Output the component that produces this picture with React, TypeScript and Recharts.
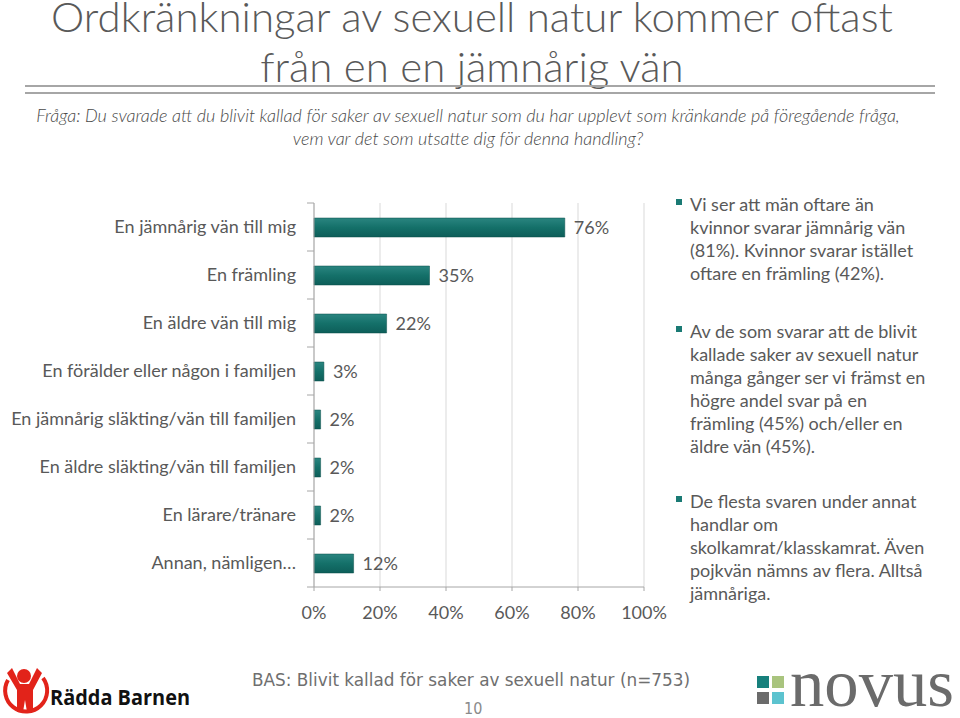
import React from "react";
import { BarChart, Bar, XAxis, YAxis, CartesianGrid, LabelList } from "recharts";

const categories = [
  "En jämnårig vän till mig",
  "En främling",
  "En äldre vän till mig",
  "En förälder eller någon i familjen",
  "En jämnårig släkting/vän till familjen",
  "En äldre släkting/vän till familjen",
  "En lärare/tränare",
  "Annan, nämligen…",
];
const values = [76, 35, 22, 3, 2, 2, 2, 12];
const xTicks = [0, 20, 40, 60, 80, 100];

const titleLines = ["Ordkränkningar av sexuell natur kommer oftast", "från en en jämnårig vän"];
const questionLines = [
  "Fråga: Du svarade att du blivit kallad för saker av sexuell natur som du har upplevt som kränkande på föregående fråga,",
  "vem var det som utsatte dig för denna handling?",
];
const bullets = [
  ["Vi ser att män oftare än", "kvinnor svarar jämnårig vän", "(81%). Kvinnor svarar istället", "oftare en främling (42%)."],
  [
    "Av de som svarar att de blivit",
    "kallade saker av sexuell natur",
    "många gånger ser vi främst en",
    "högre andel svar på en",
    "främling (45%) och/eller en",
    "äldre vän (45%).",
  ],
  ["De flesta svaren under annat", "handlar om", "skolkamrat/klasskamrat. Även", "pojkvän nämns av flera. Alltså", "jämnåriga."],
];
const bulletTops = [193, 320, 490];
const footerText = "BAS: Blivit kallad för saker av sexuell natur (n=753)";
const pageNumber = "10";

const data = categories.map((c, i) => ({ name: c, value: values[i] }));

const GRAY = "#595959";
const AXIS = "#a6a6a6";
const FONT = "Lato, 'Open Sans', sans-serif";
const TICK_SIZE = 7;
const TICK_MARGIN = 11;

function CatTick(props: any) {
  const { x, y, payload, index, visibleTicksCount } = props;
  const half = payload && typeof payload.offset === "number" && payload.offset > 0 ? payload.offset : 24;
  const ax = x + TICK_SIZE + TICK_MARGIN;
  return (
    <g>
      <text x={x} y={y} dy="0.355em" textAnchor="end" fill={GRAY} fontSize={18} fontFamily={FONT}>
        {payload.value}
      </text>
      <line x1={ax - TICK_SIZE} x2={ax} y1={y - half} y2={y - half} stroke={AXIS} />
      {index === visibleTicksCount - 1 && (
        <line x1={ax - TICK_SIZE} x2={ax} y1={y + half} y2={y + half} stroke={AXIS} />
      )}
    </g>
  );
}

export default function App() {
  return (
    <div
      style={{
        position: "absolute",
        left: 0,
        top: 0,
        width: 960,
        height: 718,
        background: "#fff",
        overflow: "hidden",
        fontFamily: FONT,
        color: GRAY,
      }}
    >
      {/* Title */}
      <svg style={{ position: "absolute", left: 0, top: 0 }} width={960} height={100}>
        {titleLines.map((t, i) => (
          <text
            key={i}
            x={472}
            y={i === 0 ? 32 : 82}
            textAnchor="middle"
            fontFamily={FONT}
            fontSize={42}
            fontWeight={300}
            fill={GRAY}
          >
            {t}
          </text>
        ))}
        <rect x={25} y={85} width={910} height={2} fill={AXIS} />
        <rect x={25} y={92} width={910} height={2} fill={AXIS} />
      </svg>

      {/* Question */}
      {questionLines.map((t, i) => (
        <div
          key={i}
          style={{
            position: "absolute",
            left: 0,
            width: 936,
            top: 104 + i * 23,
            textAlign: "center",
            fontSize: 18,
            fontStyle: "italic",
            fontWeight: 300,
            lineHeight: "23px",
            whiteSpace: "nowrap",
            color: "#4a4a4a",
          }}
        >
          {t}
        </div>
      ))}

      {/* Chart */}
      <div style={{ position: "absolute", left: 0, top: 0 }}>
        <BarChart
          width={680}
          height={640}
          data={data}
          layout="vertical"
          margin={{ top: 203, right: 36, bottom: 0, left: 0 }}
        >
          <defs>
            <linearGradient id="barGrad" x1="0" y1="0" x2="0" y2="1">
              <stop offset="0%" stopColor="#2a8580" />
              <stop offset="50%" stopColor="#147069" />
              <stop offset="100%" stopColor="#0d5e59" />
            </linearGradient>
          </defs>
          <CartesianGrid horizontal={false} stroke="#d9d9d9" />
          <XAxis
            type="number"
            domain={[0, 100]}
            ticks={xTicks}
            tickFormatter={(v: number) => `${v}%`}
            height={53}
            tickSize={4}
            tickMargin={15}
            stroke={AXIS}
            tick={{ fill: GRAY, fontSize: 18, fontFamily: FONT }}
            interval={0}
          />
          <YAxis
            type="category"
            dataKey="name"
            width={314}
            tickSize={TICK_SIZE}
            tickMargin={TICK_MARGIN}
            stroke={AXIS}
            tickLine={{ stroke: "none" }}
            tick={<CatTick />}
            interval={0}
          />
          <Bar dataKey="value" fill="url(#barGrad)" stroke="#0b4f4b" strokeWidth={0.5} barSize={19} isAnimationActive={false}>
            <LabelList
              dataKey="value"
              position="right"
              offset={9}
              formatter={(v: number) => `${v}%`}
              style={{ fill: GRAY, fontSize: 18, fontFamily: FONT }}
            />
          </Bar>
        </BarChart>
      </div>

      {/* Bullets */}
      {bullets.map((lines, bi) => (
        <div key={bi} style={{ position: "absolute", left: 690, top: bulletTops[bi], fontSize: 18, lineHeight: "23px" }}>
          <div
            style={{
              position: "absolute",
              left: -14,
              top: 6,
              width: 6,
              height: 6,
              background: "#1a7a74",
            }}
          />
          {lines.map((l, li) => (
            <div key={li} style={{ whiteSpace: "nowrap" }}>
              {l}
            </div>
          ))}
        </div>
      ))}

      {/* Footer */}
      <svg style={{ position: "absolute", left: 0, top: 640 }} width={960} height={78}>
        <text
          x={252}
          y={46}
          fontFamily="'DejaVu Sans Condensed', 'DejaVu Sans', sans-serif"
          fontSize={17}
          fill="#6f6f6f"
          textLength={438}
          lengthAdjust="spacingAndGlyphs"
        >
          {footerText}
        </text>
        <text x={464} y={74} fontFamily="'DejaVu Sans Condensed', 'DejaVu Sans', sans-serif" fontSize={16} fill="#8a8a8a">
          {pageNumber}
        </text>

        {/* Rädda Barnen logo */}
        <path d="M8 40 A21 21 0 1 0 43 38" fill="none" stroke="#e2231a" strokeWidth={4} />
        <circle cx={24} cy={36} r={7} fill="#e2231a" />
        <path
          d="M7 33 L12 28 L20 44 L29 44 L37 28 L42 33 L33 50 L33 72 L27 72 L25 60 L23 72 L17 72 L17 50 Z"
          fill="#e2231a"
        />
        <text
          x={50}
          y={65}
          fontFamily="'Open Sans', Lato, sans-serif"
          fontWeight={700}
          fontSize={21}
          fill="#111"
          textLength={140}
          lengthAdjust="spacingAndGlyphs"
        >
          Rädda Barnen
        </text>

        {/* Novus logo */}
        <rect x={757} y={36} width={12} height={12} fill="#17807c" />
        <rect x={772} y={36} width={12} height={12} fill="#a9c47e" />
        <rect x={757} y={52} width={12} height={12} fill="#6b6b6b" />
        <rect x={772} y={52} width={12} height={12} fill="#5cc3cf" />
        <text
          x={790}
          y={66}
          fontFamily="'Liberation Serif', 'DejaVu Serif', serif"
          fontSize={58}
          fill="#6b6b6b"
          textLength={164}
          lengthAdjust="spacingAndGlyphs"
          transform="translate(0 66) scale(1 1.17) translate(0 -66)"
        >
          novus
        </text>
      </svg>
    </div>
  );
}
